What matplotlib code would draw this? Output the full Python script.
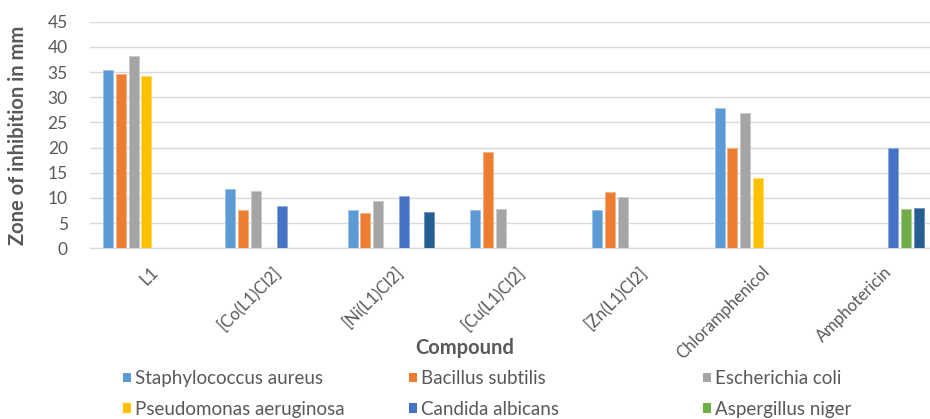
import matplotlib
matplotlib.use("Agg")
import matplotlib.pyplot as plt
from matplotlib.patches import Patch
from matplotlib.transforms import ScaledTranslation
import numpy as np

plt.rcParams['font.family'] = ['Lato', 'DejaVu Sans']

compounds = ["L1", "[Co(L1)Cl2]", "[Ni(L1)Cl2]", "[Cu(L1)Cl2]",
             "[Zn(L1)Cl2]", "Chloramphenicol", "Amphotericin"]

series_names = ["Staphylococcus aureus", "Bacillus subtilis", "Escherichia coli",
                "Pseudomonas aeruginosa", "Candida albicans", "Aspergillus niger",
                "Aspergillus flavus"]

nan = np.nan
staph_aureus = [35.4, 11.7, 7.6, 7.6, 7.6, 27.8, nan]
bacillus_subtilis = [34.6, 7.6, 7.0, 19.1, 11.1, 20.0, nan]
escherichia_coli = [38.1, 11.3, 9.4, 7.8, 10.1, 26.8, nan]
pseudomonas_aeruginosa = [34.2, nan, nan, nan, nan, 14.0, nan]
candida_albicans = [nan, 8.4, 10.3, nan, nan, nan, 20.0]
aspergillus_niger = [nan, nan, nan, nan, nan, nan, 7.8]
aspergillus_flavus = [nan, nan, 7.2, nan, nan, nan, 8.0]

series_values = [staph_aureus, bacillus_subtilis, escherichia_coli,
                 pseudomonas_aeruginosa, candida_albicans, aspergillus_niger,
                 aspergillus_flavus]

colors = ["#5B9BD5", "#ED7D31", "#A5A5A5", "#FFC000", "#4472C4", "#70AD47", "#255E91"]
edge_colors = ["#9DC3E6", "#F4B183", "#C9C9C9", "#FFD966", "#8FAADC", "#A9D18E", "#6C8EBF"]

W, H = 930, 419
fig = plt.figure(figsize=(W / 100, H / 100), dpi=100)

left_px, right_px = 90, 930
bottom_px, top_px = 248.3, 21.7
ax = fig.add_axes([left_px / W, 1 - bottom_px / H,
                   (right_px - left_px) / W, (bottom_px - top_px) / H])

x = np.arange(len(compounds))
n = len(series_values)
slot = 0.1047
bar_w = 0.082
for i, (vals, c, ec) in enumerate(zip(series_values, colors, edge_colors)):
    offs = (i - (n - 1) / 2) * slot
    ax.bar(x + offs, vals, width=bar_w, color=c, edgecolor=ec, linewidth=0.6,
           label=series_names[i], zorder=3)

ax.set_xlim(-0.4616, 6.407)
ax.set_ylim(0, 45)
ax.set_yticks(np.arange(0, 46, 5))
ax.yaxis.grid(True, color="#D9D9D9", linewidth=1.0, zorder=0)
ax.set_axisbelow(True)
for s in ["top", "right", "left"]:
    ax.spines[s].set_visible(False)
ax.spines["bottom"].set_color("#D9D9D9")
ax.spines["bottom"].set_linewidth(1.0)
ax.tick_params(axis="y", length=0, pad=16, labelsize=12.5, labelcolor="#595959")
ax.tick_params(axis="x", length=0, pad=0)

ax.set_xticks(x)
ax.set_xticklabels(compounds, rotation=45, ha="right", va="center",
                   rotation_mode="anchor", fontsize=12, color="#595959")
for lbl in ax.get_xticklabels():
    lbl.set_transform(lbl.get_transform() + ScaledTranslation(9 / 100, -21 / 100, fig.dpi_scale_trans))

ax.set_ylabel("Zone of inhibition in mm", fontsize=14.5, fontweight="bold", color="#595959")
ax.yaxis.set_label_coords((28 - left_px) / (right_px - left_px), 0.5)
fig.text(465 / W, 1 - 348 / H, "Compound", fontsize=14.5, fontweight="bold",
         color="#595959", ha="center", va="center")

# Legend, laid out in three columns
col_x = [123, 409, 703]
for col in range(3):
    handles = []
    for i in range(col, 6, 3):
        handles.append(Patch(facecolor=colors[i], edgecolor="none", label=series_names[i]))
    fig.legend(handles=handles, loc="upper left",
               bbox_to_anchor=(col_x[col] / W, 1 - 370 / H),
               frameon=False, fontsize=13.5, labelcolor="#595959",
               handlelength=0.4, handleheight=0.4, handletextpad=0.25,
               labelspacing=0.72, borderpad=0, borderaxespad=0)

fig.savefig("out.png", dpi=100)
